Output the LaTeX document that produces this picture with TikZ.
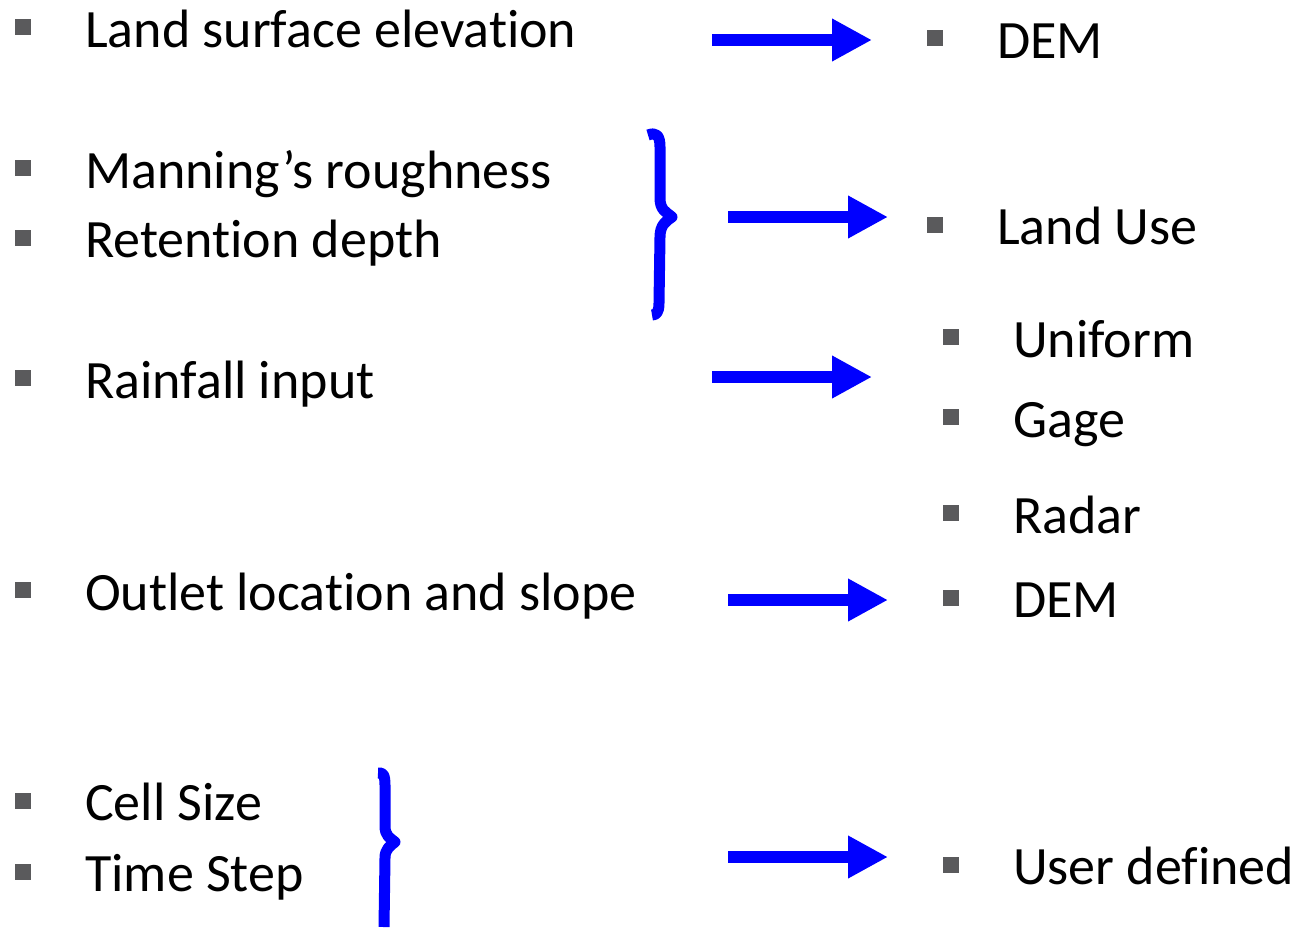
\documentclass[tikz,border=0pt]{standalone}
\usepackage{fontspec}
\setmainfont{Carlito}[Ligatures={NoCommon,NoRare}]
\usepackage{xcolor}
\usepackage{tikz}
\usetikzlibrary{arrows.meta,positioning}
\definecolor{hyBlue}{RGB}{  0,  0,255}
\definecolor{hyGrey}{RGB}{ 90, 90, 92}

\begin{document}
\begin{tikzpicture}[x=1pt,y=-1pt,
  every node/.style={font=\fontsize{54}{60}\selectfont},
  bul/.style ={fill=hyGrey,inner sep=0pt,minimum size=16pt},
  lbl/.style ={anchor=base west,inner sep=0pt,text=black},
  fat/.style ={draw=hyBlue,line width=12pt,
               -{Triangle[length=40pt,width=40pt]}},
  brc/.style ={draw=hyBlue,line width=11pt,line join=round}
]
\useasboundingbox (0,0) rectangle (1296,927);

% left column
\node[bul] (b1) at (23,27)  {};
\node[lbl] (L1) at (85,47)  {Land surface elevation};
\node[bul] (b2) at (23,168) {};
\node[lbl] (L2) at (85,188) {Manning’s roughness};
\node[bul] (b3) at (23,238) {};
\node[lbl] (L3) at (85,257) {Retention depth};
\node[bul] (b4) at (23,378) {};
\node[lbl] (L4) at (85,398) {Rainfall input};
\node[bul] (b5) at (23,590) {};
\node[lbl] (L5) at (85,610) {Outlet location and slope};
\node[bul] (b6) at (23,801) {};
\node[lbl] (L6) at (85,820) {Cell Size};
\node[bul] (b7) at (23,872) {};
\node[lbl] (L7) at (85,891) {Time Step};

% right column
\node[bul] (r1) at (935,38)  {};
\node[lbl] (R1) at (997,58)  {DEM};
\node[bul] (r2) at (935,225) {};
\node[lbl] (R2) at (997,244) {Land Use};
\node[bul] (r3) at (951,337) {};
\node[lbl] (R3) at (1013,357) {Uniform};
\node[bul] (r4) at (951,417) {};
\node[lbl] (R4) at (1013,437) {Gage};
\node[bul] (r5) at (951,513) {};
\node[lbl] (R5) at (1013,533) {Radar};
\node[bul] (r6) at (951,598) {};
\node[lbl] (R6) at (1013,617) {DEM};
\node[bul] (r7) at (951,865) {};
\node[lbl] (R7) at (1013,884) {User defined};

% braces
\draw[brc] (648,135) .. controls (656,132) and (660,135) .. (660,147)
  -- (660,198) .. controls (660,210) and (666,212) .. (672,217)
  .. controls (666,221) and (660,225) .. (660,237)
  -- (659,303) .. controls (659,313) and (656,315) .. (652,315);
\draw[brc] (378,773) .. controls (383,772) and (385,775) .. (385,785)
  -- (385,826) .. controls (385,836) and (390,838) .. (395,842)
  .. controls (390,846) and (385,849) .. (385,858)
  -- (384,927);

% arrows
\coordinate (a1s) at (712,40);  \coordinate (a1e) at (872,40);
\coordinate (a2s) at (728,217); \coordinate (a2e) at (888,217);
\coordinate (a3s) at (712,377); \coordinate (a3e) at (872,377);
\coordinate (a4s) at (728,600); \coordinate (a4e) at (888,600);
\coordinate (a5s) at (728,857); \coordinate (a5e) at (888,857);
\foreach \a in {a1,a2,a3,a4,a5} \draw[fat] (\a s) -- (\a e);
\end{tikzpicture}
\end{document}
